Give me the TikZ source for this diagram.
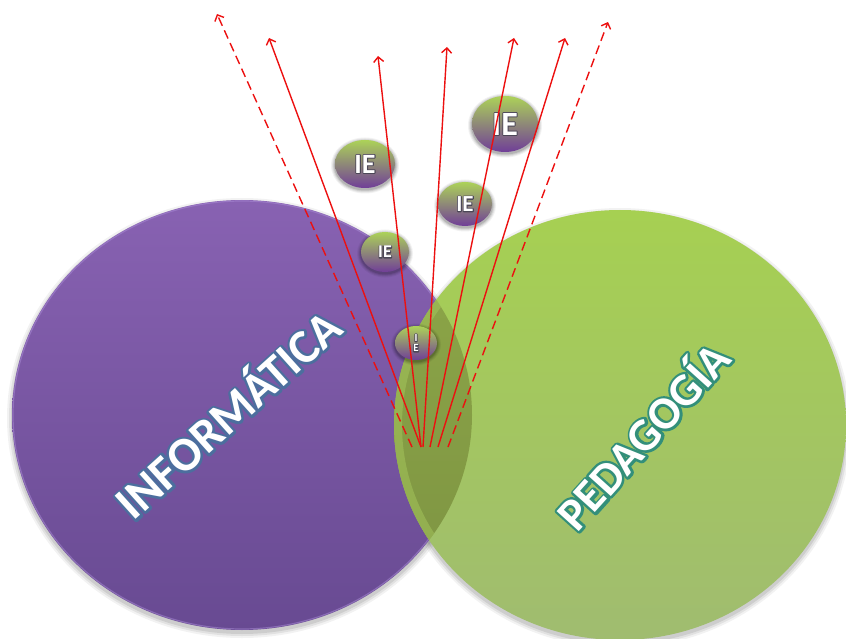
\documentclass[tikz,border=0pt]{standalone}
\usepackage{fontspec}
\setmainfont{Carlito}
\usetikzlibrary{arrows.meta}

\definecolor{purpTop}{RGB}{136,98,178}
\definecolor{purpBot}{RGB}{104,74,146}
\definecolor{purpEdge}{RGB}{170,140,215}
\definecolor{greenTop}{RGB}{166,208,82}
\definecolor{greenBot}{RGB}{160,188,112}
\definecolor{greenEdge}{RGB}{170,204,96}
\definecolor{overTop}{RGB}{142,168,72}
\definecolor{overBot}{RGB}{124,146,66}
\definecolor{bubTop}{RGB}{172,210,88}
\definecolor{bubMid}{RGB}{142,146,110}
\definecolor{bubBot}{RGB}{112,62,152}
\definecolor{rayRed}{RGB}{236,16,16}

% white letters over a stroked rim of the same letters
% #1 rim width, #2 rim colour as "r g b" (0..1), #3 text
\newcommand\rimtext[3]{%
  \rlap{\special{pdf:literal direct 1 Tr #1 w 1 j 1 J #2 RG}#3\special{pdf:literal direct 0 Tr}}#3}
\newcommand\bubrim[1]{\rimtext{1.8}{0.30 0.28 0.34}{#1}}

% one "IE" bubble: name, centre, x radius, y radius, font size, contents
\newcommand\iebubble[6]{%
  \begin{scope}[shift={#2}]
    \foreach \g/\o in {4/0.05,3/0.07,2/0.09,1/0.12}
      \fill[black,opacity=\o] (0,1.5) ellipse [x radius=#3pt+\g pt, y radius=#4pt+\g pt];
    \shade[top color=bubTop, middle color=bubMid, bottom color=bubBot]
      (0,0) ellipse [x radius=#3pt, y radius=#4pt];
    \node[bubtext, font=\bfseries\fontsize{#5}{#5}\selectfont] (#1) at (0,0) {#6};
  \end{scope}}

\begin{document}
\begin{tikzpicture}[x=1pt,y=-1pt,
  every node/.style={inner sep=0pt},
  bubtext/.style={text=white},
  bigword/.style={text=white, font=\bfseries\fontsize{#1}{#1}\selectfont},
  ray/.style={draw=rayRed, line width=1.4pt, -{Straight Barb[length=5pt,width=10pt]}},
  dashray/.style={ray, dash pattern=on 9pt off 5pt}]
\useasboundingbox (0,0) rectangle (846,639);

% soft shadows under the two big circles
\foreach \g/\o in {5/0.05,3/0.07,1/0.09}{
  \fill[black,opacity=\o] (242,418) ellipse [x radius=230pt+\g pt, y radius=215pt+\g pt];
  \fill[black,opacity=\o] (620,428) ellipse [x radius=226pt+\g pt, y radius=215pt+\g pt];
}

% the two fields
\shade[top color=purpTop, bottom color=purpBot] (242,415) ellipse [x radius=230pt, y radius=215pt];
\draw[purpEdge, line width=1.2pt, opacity=0.5] (242,415) ellipse [x radius=229pt, y radius=214pt];
\shade[top color=greenTop, bottom color=greenBot] (620,425) ellipse [x radius=226pt, y radius=215pt];

% their intersection
\begin{scope}
  \clip (242,415) ellipse [x radius=230pt, y radius=215pt];
  \shade[top color=overTop, bottom color=overBot] (620,425) ellipse [x radius=226pt, y radius=215pt];
  \clip (620,425) ellipse [x radius=226pt, y radius=215pt];
  \draw[greenEdge, line width=16pt, opacity=0.45] (620,425) ellipse [x radius=226pt, y radius=215pt];
\end{scope}

% labels
\node[bigword=48, rotate=42] (info) at (226,412) {\rimtext{5}{0.30 0.43 0.62}{INFORMÁTICA}};
\node[bigword=46, rotate=48] (peda) at (641,434) {\rimtext{5}{0.20 0.56 0.48}{PEDAGOGÍA}};

% bubbles
\iebubble{ie1}{(505,124)}{33}{28}{34}{\bubrim{IE}}
\iebubble{ie2}{(365,164)}{30}{24}{28}{\bubrim{IE}}
\iebubble{ie3}{(465,204)}{27}{22}{23}{\bubrim{IE}}
\iebubble{ie4}{(385,252)}{24}{20}{18}{\bubrim{IE}}
\iebubble{ie5}{(416,343)}{21}{17}{11}{\shortstack{\bubrim{I}\\\bubrim{E}}}

% ray origins and ends
\coordinate (s1) at (412,447);
\coordinate (s2) at (421,447);
\coordinate (s3) at (423,447);
\coordinate (s4) at (430,447);
\coordinate (s5) at (438,447);
\coordinate (s6) at (448,447);
\coordinate (e1) at (217,14);
\coordinate (e2) at (269,38);
\coordinate (e3) at (378,56);
\coordinate (e4) at (447,47);
\coordinate (e5) at (514,38);
\coordinate (e6) at (565,38);
\coordinate (e7) at (608,22);

\draw[dashray] (s1) -- (e1);
\draw[ray] (s2) -- (e2);
\draw[ray] (s2) -- (e3);
\draw[ray] (s3) -- (e4);
\draw[ray] (s4) -- (e5);
\draw[ray] (s5) -- (e6);
\draw[dashray] (s6) -- (e7);
\end{tikzpicture}
\end{document}
